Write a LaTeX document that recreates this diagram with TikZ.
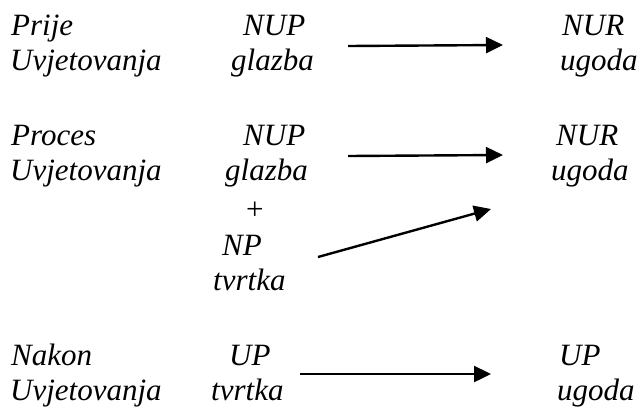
\documentclass[tikz,border=0pt]{standalone}
\usepackage{fontspec}
\setmainfont{Liberation Serif}
\usetikzlibrary{arrows.meta}
\begin{document}
\begin{tikzpicture}[x=1pt,y=-1pt,
  lbl/.style={anchor=base west,inner sep=0pt,font=\fontsize{31}{36}\selectfont\itshape},
  arr/.style={line width=2.4pt,-{Triangle[length=17pt,width=16pt]}}]
\useasboundingbox (0,0) rectangle (642,408);
% row 1
\node[lbl] (prije) at (11,35) {Prije};
\node[lbl] (uvj1) at (10,70) {Uvjetovanja};
\node[lbl] (nup1) at (243,35) {NUP};
\node[lbl] (glazba1) at (231,70) {glazba};
\node[lbl] (nur1) at (562,35) {NUR};
\node[lbl] (ugoda1) at (560,70) {ugoda};
% row 2
\node[lbl] (proces) at (11,145) {Proces};
\node[lbl] (uvj2) at (10,180) {Uvjetovanja};
\node[lbl] (nup2) at (243,145) {NUP};
\node[lbl] (glazba2) at (225,180) {glazba};
\node[lbl] (plus) at (244,219) {+};
\node[lbl] (np) at (222,255) {NP};
\node[lbl] (tvrtka2) at (213,290) {tvrtka};
\node[lbl] (nur2) at (556,145) {NUR};
\node[lbl] (ugoda2) at (551,180) {ugoda};
% row 3
\node[lbl] (nakon) at (11,365) {Nakon};
\node[lbl] (uvj3) at (10,400) {Uvjetovanja};
\node[lbl] (up3) at (229,365) {UP};
\node[lbl] (tvrtka3) at (211,400) {tvrtka};
\node[lbl] (up4) at (559,365) {UP};
\node[lbl] (ugoda3) at (557,400) {ugoda};
% arrows
\coordinate (a1s) at (348,46); \coordinate (a1e) at (503,45);
\coordinate (a2s) at (348,156); \coordinate (a2e) at (503,155);
\coordinate (a3s) at (318,257); \coordinate (a3e) at (491,209);
\coordinate (a4s) at (300,374); \coordinate (a4e) at (491,374);
\draw[arr] (a1s) -- (a1e);
\draw[arr] (a2s) -- (a2e);
\draw[arr] (a3s) -- (a3e);
\draw[arr] (a4s) -- (a4e);
\end{tikzpicture}
\end{document}
